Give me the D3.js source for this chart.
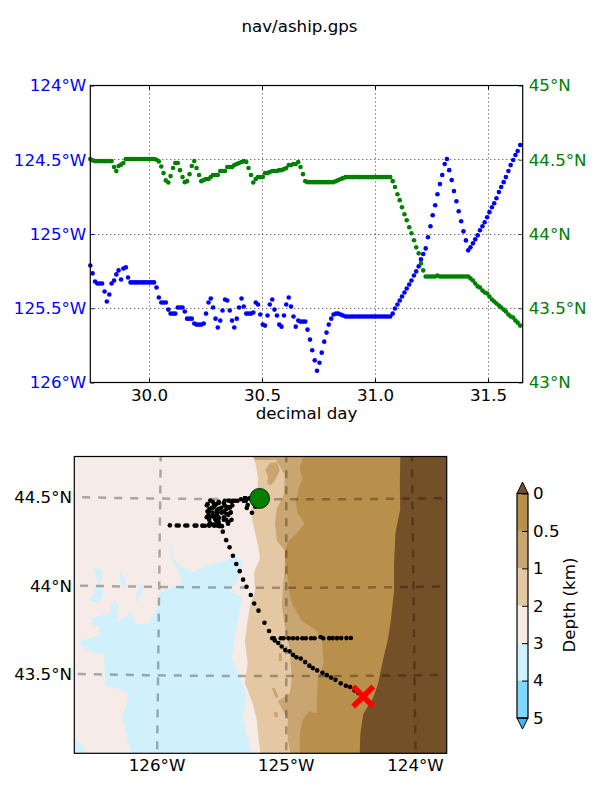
<!DOCTYPE html>
<html>
<head>
<meta charset="utf-8">
<script src="https://cdn.jsdelivr.net/npm/d3@7"></script>
<style>
  html, body { margin: 0; padding: 0; background: #fff; }
  svg { display: block; }
  svg text { font-family: "DejaVu Sans", sans-serif; }
</style>
</head>
<body>
<div id="app"></div>
<script>
'use strict'

// Ship track (one fix every 15 minutes).
const days = [
  29.739, 29.749, 29.760, 29.770, 29.781, 29.791, 29.802, 29.812, 29.823, 29.833, 29.844, 29.854, 29.864, 29.875, 29.885, 29.896,
  29.906, 29.917, 29.927, 29.938, 29.948, 29.958, 29.969, 29.979, 29.990, 30.000, 30.011, 30.021, 30.032, 30.042, 30.053, 30.063,
  30.073, 30.084, 30.094, 30.105, 30.115, 30.126, 30.136, 30.147, 30.157, 30.167, 30.178, 30.188, 30.199, 30.209, 30.220, 30.230,
  30.241, 30.251, 30.262, 30.272, 30.282, 30.293, 30.303, 30.314, 30.324, 30.335, 30.345, 30.356, 30.366, 30.376, 30.387, 30.397,
  30.408, 30.418, 30.429, 30.439, 30.450, 30.460, 30.471, 30.481, 30.491, 30.502, 30.512, 30.523, 30.533, 30.544, 30.554, 30.565,
  30.575, 30.585, 30.596, 30.606, 30.617, 30.627, 30.638, 30.648, 30.659, 30.669, 30.680, 30.690, 30.700, 30.711, 30.721, 30.732,
  30.742, 30.753, 30.763, 30.774, 30.784, 30.794, 30.805, 30.815, 30.826, 30.836, 30.847, 30.857, 30.868, 30.878, 30.889, 30.899,
  30.909, 30.920, 30.930, 30.941, 30.951, 30.962, 30.972, 30.983, 30.993, 31.003, 31.014, 31.024, 31.035, 31.045, 31.056, 31.066,
  31.077, 31.087, 31.098, 31.108, 31.118, 31.129, 31.139, 31.150, 31.160, 31.171, 31.181, 31.192, 31.202, 31.212, 31.223, 31.233,
  31.244, 31.254, 31.265, 31.275, 31.286, 31.296, 31.307, 31.317, 31.327, 31.338, 31.348, 31.359, 31.369, 31.380, 31.390, 31.401,
  31.411, 31.421, 31.432, 31.442, 31.453, 31.463, 31.474, 31.484, 31.495, 31.505, 31.516, 31.526, 31.536, 31.547, 31.557, 31.568,
  31.578, 31.589, 31.599, 31.610, 31.620, 31.630, 31.641
]

// degrees west
const lonWest = [
  125.212, 125.265, 125.32, 125.333, 125.333, 125.333, 125.387, 125.455, 125.407, 125.333, 125.313, 125.272, 125.245, 125.306, 125.232, 125.225,
  125.293, 125.326, 125.326, 125.326, 125.326, 125.326, 125.326, 125.326, 125.326, 125.326, 125.326, 125.326, 125.36, 125.428, 125.461, 125.461,
  125.461, 125.509, 125.536, 125.536, 125.536, 125.495, 125.495, 125.495, 125.522, 125.57, 125.57, 125.57, 125.603, 125.61, 125.61, 125.61,
  125.603, 125.536, 125.461, 125.434, 125.495, 125.57, 125.63, 125.583, 125.515, 125.441, 125.448, 125.515, 125.583, 125.63, 125.57, 125.495,
  125.434, 125.488, 125.536, 125.536, 125.536, 125.529, 125.461, 125.475, 125.542, 125.61, 125.617, 125.549, 125.475, 125.441, 125.509, 125.549,
  125.61, 125.624, 125.549, 125.475, 125.428, 125.488, 125.556, 125.624, 125.583, 125.59, 125.59, 125.59, 125.644, 125.711, 125.783, 125.851,
  125.921, 125.867, 125.799, 125.725, 125.664, 125.61, 125.57, 125.542, 125.536, 125.536, 125.542, 125.549, 125.556, 125.556, 125.556, 125.556,
  125.556, 125.556, 125.556, 125.556, 125.556, 125.556, 125.556, 125.556, 125.556, 125.556, 125.556, 125.556, 125.556, 125.556, 125.556, 125.556,
  125.536, 125.502, 125.475, 125.448, 125.421, 125.394, 125.367, 125.34, 125.313, 125.279, 125.252, 125.218, 125.171, 125.135, 125.097, 125.022,
  124.948, 124.874, 124.806, 124.732, 124.664, 124.603, 124.529, 124.495, 124.57, 124.637, 124.711, 124.779, 124.847, 124.914, 124.982, 125.043,
  125.11, 125.09, 125.063, 125.036, 125.009, 124.975, 124.948, 124.921, 124.887, 124.853, 124.82, 124.793, 124.759, 124.718, 124.684, 124.651,
  124.617, 124.576, 124.536, 124.502, 124.468, 124.441, 124.401
]

// degrees north
const latNorth = [
  44.505, 44.496, 44.491, 44.491, 44.491, 44.491, 44.491, 44.491, 44.491, 44.491, 44.451, 44.424, 44.458, 44.467, 44.478, 44.505,
  44.505, 44.505, 44.505, 44.505, 44.505, 44.505, 44.505, 44.505, 44.505, 44.505, 44.505, 44.505, 44.5, 44.489, 44.455, 44.41,
  44.361, 44.347, 44.39, 44.444, 44.478, 44.478, 44.43, 44.383, 44.349, 44.356, 44.403, 44.458, 44.491, 44.444, 44.397, 44.356,
  44.363, 44.37, 44.37, 44.383, 44.397, 44.397, 44.397, 44.424, 44.424, 44.424, 44.451, 44.451, 44.451, 44.464, 44.471, 44.478,
  44.485, 44.491, 44.485, 44.444, 44.397, 44.347, 44.37, 44.383, 44.383, 44.383, 44.41, 44.41, 44.417, 44.424, 44.424, 44.424,
  44.43, 44.43, 44.437, 44.444, 44.464, 44.464, 44.471, 44.471, 44.485, 44.451, 44.403, 44.356, 44.349, 44.349, 44.349, 44.349,
  44.349, 44.349, 44.349, 44.349, 44.349, 44.349, 44.349, 44.349, 44.356, 44.363, 44.37, 44.376, 44.383, 44.383, 44.383, 44.383,
  44.383, 44.383, 44.383, 44.383, 44.383, 44.383, 44.383, 44.383, 44.383, 44.383, 44.383, 44.383, 44.383, 44.383, 44.383, 44.383,
  44.356, 44.316, 44.268, 44.228, 44.18, 44.133, 44.093, 44.045, 44.005, 43.958, 43.91, 43.87, 43.802, 43.755, 43.714, 43.714,
  43.714, 43.714, 43.714, 43.721, 43.714, 43.714, 43.714, 43.714, 43.714, 43.714, 43.714, 43.714, 43.714, 43.714, 43.714, 43.714,
  43.714, 43.701, 43.687, 43.667, 43.647, 43.64, 43.62, 43.606, 43.599, 43.579, 43.559, 43.545, 43.532, 43.518, 43.505, 43.491,
  43.478, 43.458, 43.444, 43.437, 43.417, 43.403, 43.383
]

// tick values and labels
const dayTicks = [30, 30.5, 31, 31.5]
const lonTicks = [124, 124.5, 125, 125.5, 126]
const latTicks = [45, 44.5, 44, 43.5, 43]
const mapLonTicks = [-126, -125, -124]
const mapLatTicks = [44.5, 44, 43.5]
const depthLabels = ['0', '0.5', '1', '2', '3', '4', '5']
const depthColors = ['#b98f4c', '#c9a671', '#e4c7a3', '#f6ebe7', '#d0f1fc', '#7fd8fe']

// bathymetry outlines as [lon, lat]
const deepPatches = [
  [[-125.918, 44.257], [-125.897, 44.172], [-125.832, 44.115], [-125.722, 44.087], [-125.623, 44.125], [-125.467, 44.153], [-125.415, 44.187], [-125.337, 44.144], [-125.394, 44.02], [-125.454, 43.983], [-125.342, 43.945], [-125.389, 43.774], [-125.428, 43.604], [-125.311, 43.395], [-125.337, 43.263], [-125.259, 43.036], [-126.196, 43.036], [-126.274, 43.263], [-126.222, 43.386], [-126.313, 43.424], [-126.405, 43.433], [-126.423, 43.566], [-126.418, 43.661], [-126.34, 43.793], [-126.222, 43.85], [-126.17, 43.784], [-126.079, 43.793], [-126.009, 43.888], [-126.001, 43.964], [-125.91, 44.002], [-125.832, 44.011], [-125.826, 44.058], [-125.91, 44.163]],
  [[-126.524, 44.10], [-126.467, 44.096], [-126.446, 44.068], [-126.467, 44.011], [-126.436, 43.964], [-126.454, 43.922], [-126.498, 43.907], [-126.558, 43.926], [-126.506, 43.964], [-126.488, 44.011], [-126.493, 44.058]],
  [[-126.306, 44.087], [-126.272, 44.049], [-126.259, 43.998], [-126.298, 44.002], [-126.311, 44.039]],
  [[-126.123, 44.02], [-126.115, 43.998], [-126.142, 43.964], [-126.168, 43.916], [-126.188, 43.922], [-126.168, 43.983]],
  [[-126.524, 43.822], [-126.48, 43.827], [-126.376, 43.85], [-126.376, 43.897], [-126.35, 43.916], [-126.316, 43.892], [-126.321, 43.84], [-126.337, 43.774], [-126.415, 43.765], [-126.454, 43.765], [-126.524, 43.784]],
  [[-126.472, 43.765], [-126.462, 43.721], [-126.405, 43.68], [-126.34, 43.793]],
  [[-126.636, 43.683], [-126.558, 43.698], [-126.472, 43.721], [-126.41, 43.698], [-126.418, 43.619], [-126.496, 43.619], [-126.574, 43.645]],
  [[-126.691, 43.149], [-126.639, 43.145], [-126.561, 43.073], [-126.488, 43.036], [-126.691, 43.036]]
]
const slopePatch = [[-125.293, 44.778], [-125.246, 44.705], [-125.223, 44.619], [-125.23, 44.551], [-125.277, 44.455], [-125.27, 44.381], [-125.223, 44.239], [-125.207, 44.165], [-125.254, 44.085], [-125.246, 43.983], [-125.285, 43.898], [-125.309, 43.784], [-125.324, 43.688], [-125.301, 43.574], [-125.324, 43.46], [-125.262, 43.347], [-125.23, 43.256], [-125.215, 43.142], [-125.191, 43.017], [-123.645, 43.017], [-123.645, 44.778]]
const upperPatches = [
  [[-125.105, 44.778], [-125.09, 44.733], [-125.012, 44.636], [-125.02, 44.523], [-125.074, 44.449], [-125.09, 44.369], [-125.074, 44.267], [-125.012, 44.21], [-125.012, 44.108], [-125.027, 43.994], [-125.035, 43.898], [-125.012, 43.784], [-124.973, 43.653], [-124.957, 43.483], [-124.973, 43.403], [-125.066, 43.358], [-124.988, 43.256], [-124.988, 43.142], [-124.957, 43.017], [-123.645, 43.017], [-123.645, 44.778]],
  [[-125.293, 44.778], [-124.9, 44.778], [-124.9, 44.733], [-125.129, 44.722], [-125.246, 44.722]],
  [[-125.129, 44.705], [-125.074, 44.71], [-125.051, 44.665], [-125.09, 44.608], [-125.121, 44.58], [-125.152, 44.591], [-125.145, 44.625], [-125.168, 44.665]],
  [[-125.059, 43.631], [-125.035, 43.631], [-125.035, 43.585], [-125.059, 43.585]],
  [[-125.113, 43.432], [-125.09, 43.432], [-125.059, 43.381], [-125.082, 43.375]],
  [[-125.098, 43.295], [-125.066, 43.295], [-125.066, 43.267], [-125.09, 43.267]]
]
const shallowPatches = [
  [[-124.871, 44.778], [-124.871, 44.733], [-124.895, 44.676], [-124.871, 44.619], [-124.91, 44.54], [-124.926, 44.483], [-124.91, 44.42], [-124.855, 44.364], [-124.918, 44.307], [-124.98, 44.267], [-125.012, 44.21], [-125.004, 44.125], [-124.988, 44.051], [-124.973, 43.955], [-124.949, 43.898], [-124.91, 43.852], [-124.879, 43.813], [-124.762, 43.756], [-124.723, 43.71], [-124.707, 43.574], [-124.754, 43.489], [-124.762, 43.386], [-124.762, 43.29], [-124.824, 43.301], [-124.871, 43.256], [-124.895, 43.176], [-124.895, 43.017], [-123.645, 43.017], [-123.645, 44.778]],
  [[-124.2, 43.72], [-124.16, 43.725], [-124.14, 43.7], [-124.19, 43.695]],
  [[-124.24, 43.42], [-124.2, 43.44], [-124.17, 43.4], [-124.22, 43.405]],
  [[-124.09, 44.45], [-124.07, 44.45], [-124.07, 44.43], [-124.09, 44.43]]
]
const landPatch = [[-124.09, 44.778], [-124.098, 44.591], [-124.098, 44.438], [-124.137, 44.307], [-124.152, 44.114], [-124.152, 43.983], [-124.184, 43.795], [-124.207, 43.699], [-124.246, 43.585], [-124.285, 43.455], [-124.324, 43.375], [-124.402, 43.284], [-124.426, 43.17], [-124.434, 43.017], [-123.645, 43.017], [-123.645, 44.778]]

const fontSize = 16.67

const svg = d3.select('#app').append('svg').attr('width', 600).attr('height', 800)

svg.append('text')
  .attr('x', 299.5).attr('y', 32)
  .attr('text-anchor', 'middle')
  .attr('font-size', fontSize)
  .text('nav/aship.gps')

const styleFrame = (g, color) => {
  g.select('.domain').remove()
  g.selectAll('.tick line').attr('stroke', color).attr('stroke-width', 1)
  g.selectAll('.tick text').attr('fill', color).attr('font-size', fontSize)
}

// ---- time series panel
const plot = { left: 90.3, right: 522.7, top: 85.5, bottom: 382.5 }

const scaleX = d3.scaleLinear().domain([29.7389, 31.6522]).range([plot.left, plot.right])
const scaleLon = d3.scaleLinear().domain([124, 126]).range([plot.top, plot.bottom])
const scaleLat = d3.scaleLinear().domain([45, 43]).range([plot.top, plot.bottom])

const grid = svg.append('g')
  .attr('fill', 'none')
  .attr('stroke', '#000')
  .attr('stroke-opacity', 0.8)
  .attr('stroke-width', 1)
  .attr('stroke-dasharray', '1,3')
grid.selectAll('.gx').data(dayTicks).join('line').attr('class', 'gx')
  .attr('x1', d => Math.floor(scaleX(d)) + 0.5).attr('x2', d => Math.floor(scaleX(d)) + 0.5)
  .attr('y1', plot.top).attr('y2', plot.bottom)
grid.selectAll('.gy').data(lonTicks.slice(1, -1)).join('line').attr('class', 'gy')
  .attr('x1', plot.left).attr('x2', plot.right)
  .attr('y1', d => Math.floor(scaleLon(d)) + 0.5).attr('y2', d => Math.floor(scaleLon(d)) + 0.5)

svg.append('g')
  .attr('transform', `translate(0,${plot.bottom})`)
  .call(d3.axisBottom(scaleX).tickValues(dayTicks).tickSize(-4).tickPadding(7).offset(0.2).tickFormat(d3.format('.1f')))
  .call(g => styleFrame(g, '#000'))

svg.append('g')
  .attr('transform', `translate(0,${plot.top})`)
  .call(d3.axisTop(scaleX).tickValues(dayTicks).tickSize(-4).offset(0.2).tickFormat(''))
  .call(g => styleFrame(g, '#000'))

svg.append('g')
  .attr('transform', `translate(${plot.left},0)`)
  .call(d3.axisLeft(scaleLon).tickValues(lonTicks).tickSize(-4).tickPadding(4).tickFormat(d => `${d}°W`))
  .call(g => styleFrame(g, '#0000ff'))

svg.append('g')
  .attr('transform', `translate(${plot.right},0)`)
  .call(d3.axisRight(scaleLat).tickValues(latTicks).tickSize(-4).tickPadding(6).tickFormat(d => `${d}°N`))
  .call(g => styleFrame(g, '#008000'))

svg.append('g').selectAll('circle')
  .data(days)
  .join('circle')
  .attr('cx', d => scaleX(d))
  .attr('cy', (d, i) => scaleLon(lonWest[i]))
  .attr('r', 2.3)
  .attr('fill', '#0000ff')

svg.append('g').selectAll('circle')
  .data(days)
  .join('circle')
  .attr('cx', d => scaleX(d))
  .attr('cy', (d, i) => scaleLat(latNorth[i]))
  .attr('r', 2.3)
  .attr('fill', '#008000')

svg.append('rect')
  .attr('x', plot.left).attr('y', plot.top)
  .attr('width', plot.right - plot.left).attr('height', plot.bottom - plot.top)
  .attr('fill', 'none').attr('stroke', '#000').attr('stroke-width', 1.2)

svg.append('text')
  .attr('x', (plot.left + plot.right) / 2).attr('y', 419)
  .attr('text-anchor', 'middle')
  .attr('font-size', fontSize)
  .text('decimal day')

// ---- map panel
const map = { left: 74.3, right: 446.7, top: 456.5, bottom: 753.3 }

const projection = d3.geoConicConformal()
  .parallels([43, 45])
  .rotate([125, 0])
  .center([0, 44])
  .scale(10130)
  .translate([286.3, 587.7])

const mapLine = d3.line().x(d => projection(d)[0]).y(d => projection(d)[1])

svg.append('clipPath').attr('id', 'map-clip')
  .append('rect')
  .attr('x', map.left).attr('y', map.top)
  .attr('width', map.right - map.left).attr('height', map.bottom - map.top)

const mapG = svg.append('g').attr('clip-path', 'url(#map-clip)')

mapG.append('rect')
  .attr('x', map.left).attr('y', map.top)
  .attr('width', map.right - map.left).attr('height', map.bottom - map.top)
  .attr('fill', depthColors[3])

const drawPatches = (patches, color) => {
  mapG.append('g').selectAll('path')
    .data(patches)
    .join('path')
    .attr('d', d => mapLine(d) + 'Z')
    .attr('fill', color)
}

drawPatches(deepPatches, depthColors[4])
drawPatches([slopePatch], depthColors[2])
drawPatches(upperPatches, depthColors[1])
drawPatches(shallowPatches, depthColors[0])
drawPatches([landPatch], '#745029')

const meridian = lon => d3.range(42.9, 44.95, 0.1).map(lat => [lon, lat])
const parallel = lat => d3.range(-127, -123.45, 0.1).map(lon => [lon, lat])

mapG.append('g')
  .attr('fill', 'none')
  .attr('stroke', '#000')
  .attr('stroke-opacity', 0.3)
  .attr('stroke-width', 2.5)
  .attr('stroke-dasharray', '8,8')
  .selectAll('path')
  .data([...mapLonTicks.map(meridian), ...mapLatTicks.map(parallel)])
  .join('path')
  .attr('d', mapLine)

mapG.append('g').selectAll('circle')
  .data(days)
  .join('circle')
  .attr('cx', (d, i) => projection([-lonWest[i], latNorth[i]])[0])
  .attr('cy', (d, i) => projection([-lonWest[i], latNorth[i]])[1])
  .attr('r', 2.3)
  .attr('fill', '#000')

const startPoint = projection([-lonWest[0], latNorth[0]])
const endPoint = projection([-lonWest[lonWest.length - 1], latNorth[latNorth.length - 1]])

mapG.append('circle')
  .attr('cx', startPoint[0]).attr('cy', startPoint[1])
  .attr('r', 10)
  .attr('fill', '#008000').attr('stroke', '#000').attr('stroke-width', 0.8)

mapG.append('path')
  .attr('transform', `translate(${endPoint})`)
  .attr('d', d3.symbol(d3.symbolTimes).size(263))
  .attr('fill', 'none').attr('stroke', '#ff0000').attr('stroke-width', 5.5)

svg.append('rect')
  .attr('x', map.left).attr('y', map.top)
  .attr('width', map.right - map.left).attr('height', map.bottom - map.top)
  .attr('fill', 'none').attr('stroke', '#000').attr('stroke-width', 1.2)

svg.append('g').selectAll('text')
  .data(mapLonTicks)
  .join('text')
  .attr('x', d => projection([d, 43.03])[0])
  .attr('y', 771)
  .attr('text-anchor', 'middle')
  .attr('font-size', fontSize)
  .text(d => `${-d}°W`)

svg.append('g').selectAll('text')
  .data(mapLatTicks)
  .join('text')
  .attr('x', 72)
  .attr('y', d => projection([-126.68, d])[1] + 6)
  .attr('text-anchor', 'end')
  .attr('font-size', fontSize)
  .text(d => `${d}°N`)

// ---- colorbar
const bar = { left: 517, right: 528, top: 493.5, bottom: 718 }

const scaleDepth = d3.scalePoint().domain(depthLabels).range([bar.top, bar.bottom])

svg.append('g').selectAll('rect')
  .data(depthColors)
  .join('rect')
  .attr('x', bar.left)
  .attr('y', (d, i) => scaleDepth(depthLabels[i]))
  .attr('width', bar.right - bar.left)
  .attr('height', (d, i) => scaleDepth(depthLabels[i + 1]) - scaleDepth(depthLabels[i]))
  .attr('fill', d => d)

const barMid = (bar.left + bar.right) / 2

svg.append('path')
  .attr('d', `M${bar.left},${bar.top}L${barMid},${bar.top - 11.5}L${bar.right},${bar.top}Z`)
  .attr('fill', '#745029').attr('stroke', '#000').attr('stroke-width', 1)

svg.append('path')
  .attr('d', `M${bar.left},${bar.bottom}L${barMid},${bar.bottom + 11}L${bar.right},${bar.bottom}Z`)
  .attr('fill', '#3fb6ee').attr('stroke', '#000').attr('stroke-width', 1)

svg.append('rect')
  .attr('x', bar.left).attr('y', bar.top)
  .attr('width', bar.right - bar.left).attr('height', bar.bottom - bar.top)
  .attr('fill', 'none').attr('stroke', '#000').attr('stroke-width', 1.2)

svg.append('g')
  .attr('transform', `translate(${bar.right},0)`)
  .call(d3.axisRight(scaleDepth).tickSize(-6).tickPadding(5))
  .call(g => styleFrame(g, '#000'))

svg.append('text')
  .attr('transform', 'translate(575,605) rotate(-90)')
  .attr('text-anchor', 'middle')
  .attr('font-size', fontSize)
  .text('Depth (km)')
</script>
</body>
</html>
